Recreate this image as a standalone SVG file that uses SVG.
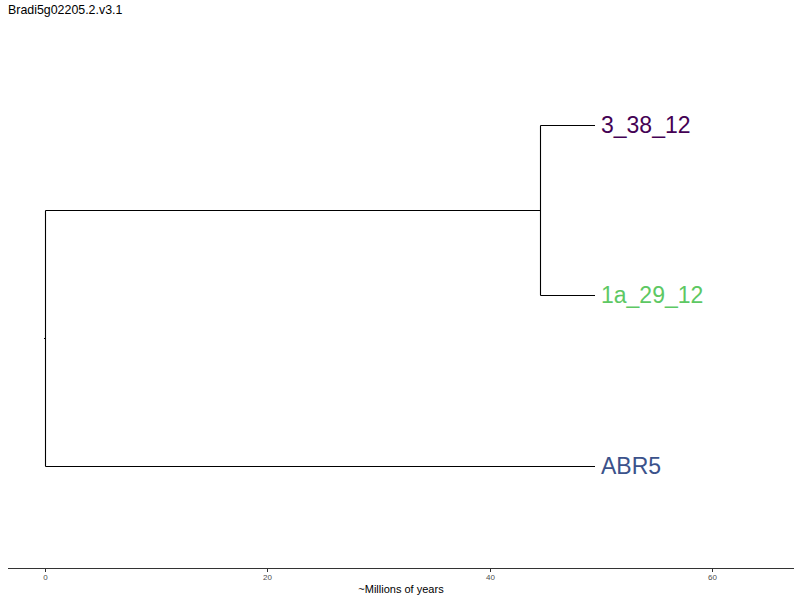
<svg xmlns="http://www.w3.org/2000/svg" width="800" height="600" viewBox="0 0 800 600">
<style>
.br{stroke:#000;stroke-width:1.1;fill:none}
.tip{font-family:"Liberation Sans",Arial,sans-serif;font-size:23px}
.tick{stroke:#333;stroke-width:1}
.tl{font-family:"Liberation Sans",Arial,sans-serif;font-size:8px;fill:#4d4d4d;text-anchor:middle}
</style>
<rect width="800" height="600" fill="#fff"/>
<text x="8" y="14" font-family="Liberation Sans, Arial, sans-serif" font-size="12.4" fill="#000">Bradi5g02205.2.v3.1</text>
<g id="connectors">
<path class="br" d="M44 338.5H45.5M45.5 210.5V466.5M45.5 210.5H540.5M45.5 466.5H595M540.5 125.5V295.5M540.5 125.5H595M540.5 295.5H595"/>
</g>
<g id="node-3_38_12"><text class="tip" x="601" y="133" fill="#440154">3_38_12</text></g>
<g id="node-1a_29_12"><text class="tip" x="601" y="303" fill="#5DC863">1a_29_12</text></g>
<g id="node-ABR5"><text class="tip" x="601" y="474" fill="#3B528B">ABR5</text></g>
<g id="axis">
<line x1="8" y1="568.5" x2="794" y2="568.5" stroke="#333" stroke-width="1.1"/>
<line class="tick" x1="45.5" y1="569" x2="45.5" y2="572"/>
<line class="tick" x1="267.5" y1="569" x2="267.5" y2="572"/>
<line class="tick" x1="490.5" y1="569" x2="490.5" y2="572"/>
<line class="tick" x1="712.5" y1="569" x2="712.5" y2="572"/>
<text class="tl" x="45.5" y="580">0</text>
<text class="tl" x="267.5" y="580">20</text>
<text class="tl" x="490.5" y="580">40</text>
<text class="tl" x="712.5" y="580">60</text>
<text x="401" y="593" font-family="Liberation Sans, Arial, sans-serif" font-size="11" text-anchor="middle" fill="#000">~Millions of years</text>
</g>
</svg>
